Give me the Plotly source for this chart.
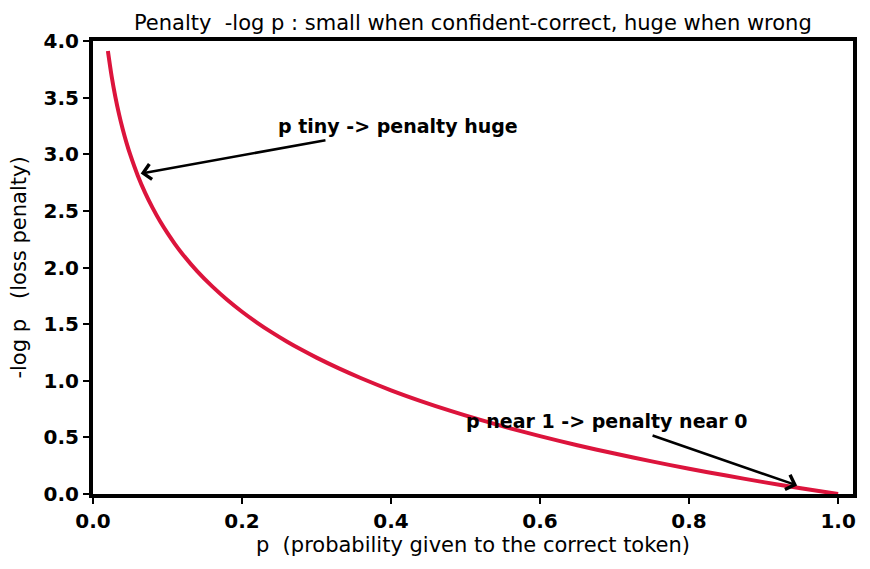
import plotly.graph_objects as go

# Values
p_vals = [0.02, 0.025, 0.03, 0.035, 0.04, 0.045, 0.05, 0.06, 0.07, 0.08, 0.09, 0.10,
          0.11, 0.12, 0.14, 0.16, 0.18, 0.20, 0.22, 0.24, 0.26, 0.28, 0.30, 0.33,
          0.36, 0.40, 0.44, 0.48, 0.52, 0.56, 0.60, 0.65, 0.70, 0.75, 0.80, 0.85,
          0.90, 0.95, 1.00]
penalty = [3.912, 3.689, 3.507, 3.352, 3.219, 3.101, 2.996, 2.813, 2.659, 2.526,
           2.408, 2.303, 2.207, 2.120, 1.966, 1.833, 1.715, 1.609, 1.514, 1.427,
           1.347, 1.273, 1.204, 1.109, 1.022, 0.916, 0.821, 0.734, 0.654, 0.580,
           0.511, 0.431, 0.357, 0.288, 0.223, 0.163, 0.105, 0.051, 0.0]

x_ticks = [0.0, 0.2, 0.4, 0.6, 0.8, 1.0]
y_ticks = [0.0, 0.5, 1.0, 1.5, 2.0, 2.5, 3.0, 3.5, 4.0]

title_text = "Penalty  -log p : small when confident-correct, huge when wrong"
x_title = "p  (probability given to the correct token)"
y_title = "-log p   (loss penalty)"

note1 = "p tiny -> penalty huge"
note1_text_pos = (0.246, 3.25)
note1_tail = (0.314, 3.126)
note1_head = (0.064, 2.83)

note2 = "p near 1 -> penalty near 0"
note2_text_pos = (0.498, 0.645)
note2_tail = (0.749, 0.521)
note2_head = (0.945, 0.075)

FONT = "DejaVu Sans"

fig = go.Figure()
fig.add_trace(go.Scatter(
    x=p_vals, y=penalty, mode="lines",
    line=dict(color="#DC143C", width=4, shape="spline", smoothing=0.8),
    showlegend=False, hoverinfo="skip",
))

axis_common = dict(
    showline=True, linecolor="black", linewidth=4, mirror=True,
    ticks="outside", ticklen=6, tickwidth=1.5, tickcolor="black",
    showgrid=False, zeroline=False,
    tickfont=dict(family=FONT, size=20, color="black", weight="bold"),
    title_font=dict(family=FONT, size=21, color="black"),
)

fig.update_xaxes(range=[0, 1.02], tickvals=x_ticks,
                 ticktext=[f"{v:.1f}" for v in x_ticks],
                 title_text=x_title, title_standoff=6, **axis_common)
fig.update_yaxes(range=[0, 4.0], tickvals=y_ticks,
                 ticktext=[f"{v:.1f}" for v in y_ticks],
                 title_text=y_title, title_standoff=12, **axis_common)

ann = []
for txt, pos in [(note1, note1_text_pos), (note2, note2_text_pos)]:
    ann.append(dict(x=pos[0], y=pos[1], xref="x", yref="y", text=f"<b>{txt}</b>",
                    showarrow=False, xanchor="left", yanchor="middle",
                    font=dict(family=FONT, size=19, color="black")))
for tail, head in [(note1_tail, note1_head), (note2_tail, note2_head)]:
    ann.append(dict(x=head[0], y=head[1], ax=tail[0], ay=tail[1],
                    xref="x", yref="y", axref="x", ayref="y", text="",
                    showarrow=True, arrowhead=4, arrowsize=1.2, arrowwidth=2.5,
                    arrowcolor="black", standoff=0, startstandoff=0))

fig.update_layout(
    width=870, height=569,
    paper_bgcolor="white", plot_bgcolor="white",
    margin=dict(l=93, r=17, t=41, b=75),
    font=dict(family=FONT, color="black"),
    title=dict(text=title_text, x=0.5435, xanchor="center", y=0.961, yanchor="middle",
               xref="container", yref="container",
               font=dict(family=FONT, size=21, color="black")),
    annotations=ann,
)

fig.write_html("out.html")
